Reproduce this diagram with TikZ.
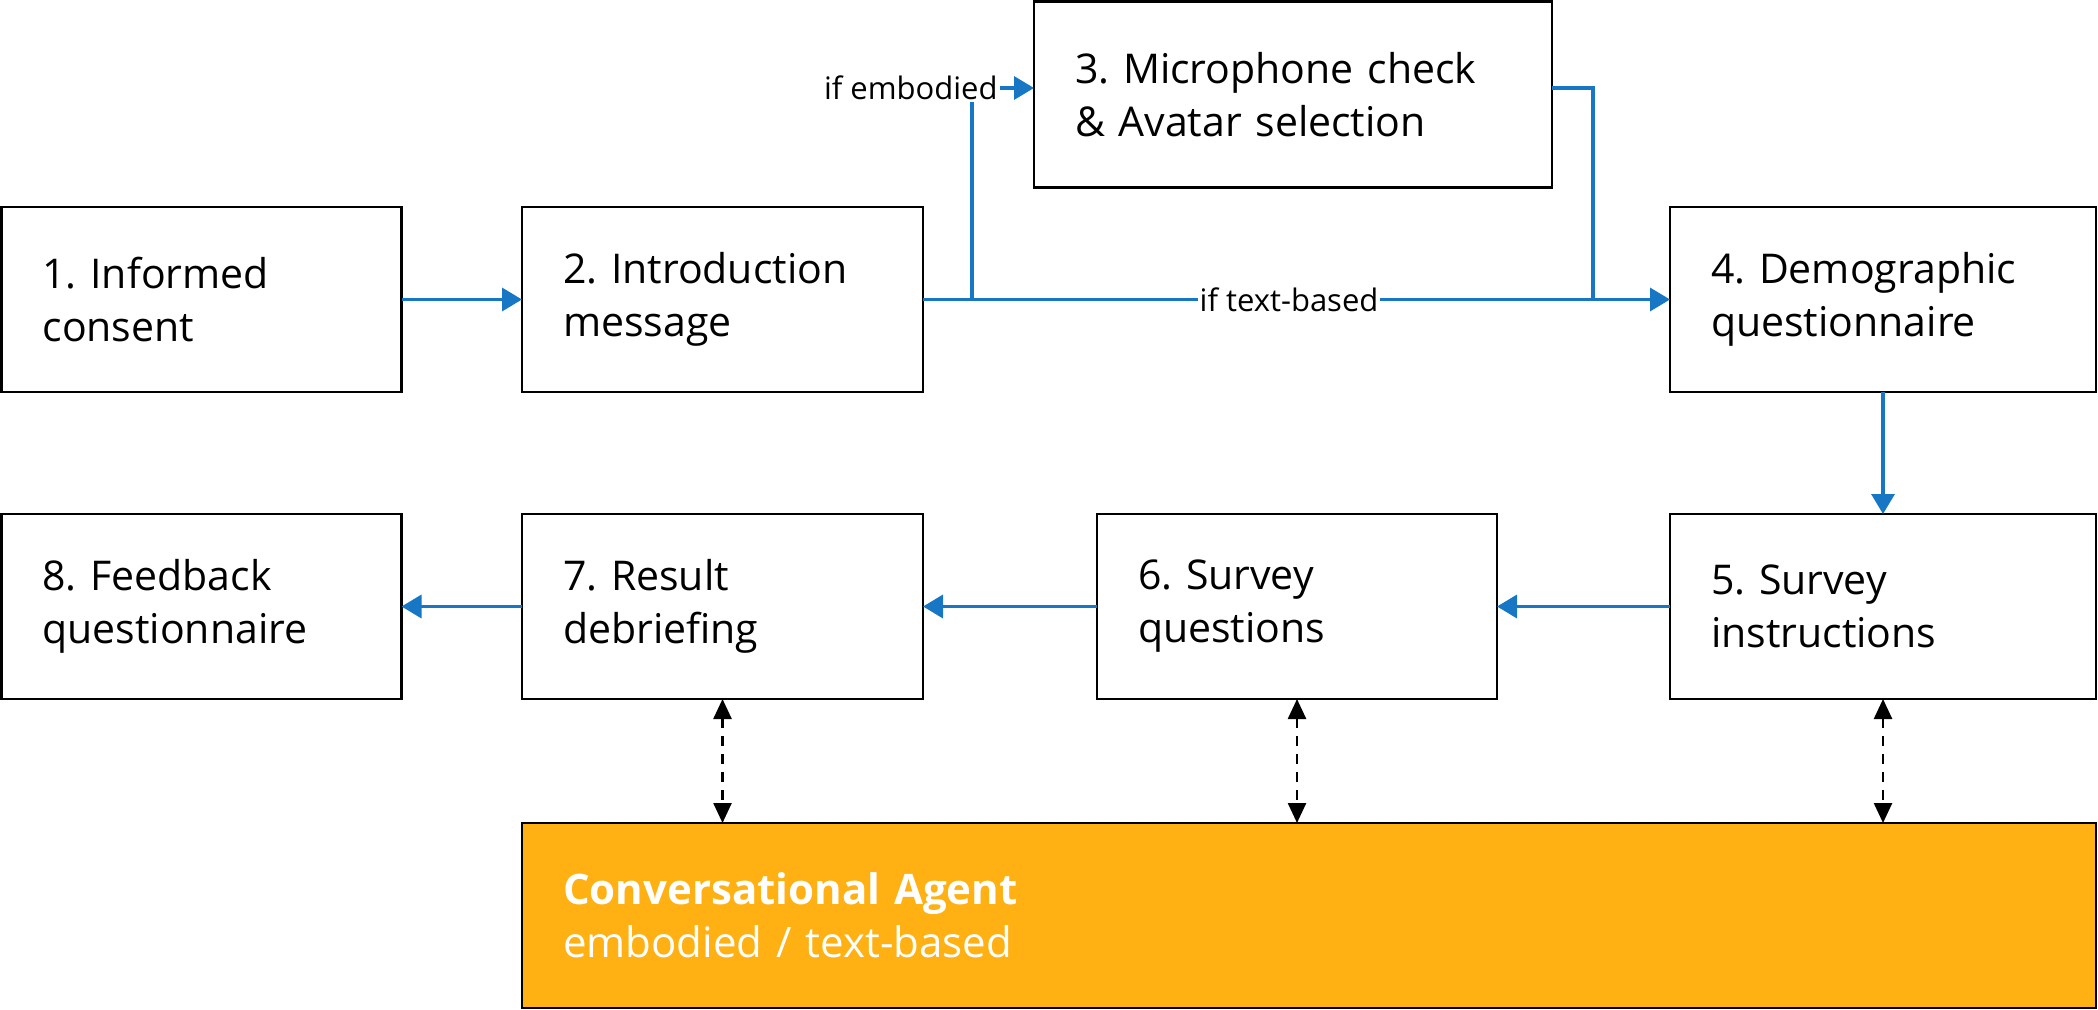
\documentclass[tikz,border=0pt]{standalone}
\usepackage{fontspec}
\setmainfont{Open Sans}
\usetikzlibrary{arrows.meta}
\definecolor{flowblue}{HTML}{1777C5}
\definecolor{agentorange}{HTML}{FFB012}
\frenchspacing
\begin{document}
\begin{tikzpicture}[x=0.5pt,y=-0.5pt,
  stepbox/.style={draw=black, line width=1.25pt, minimum height=92.5pt, inner xsep=20.5pt, inner ysep=0pt,
    align=left, font=\fontsize{20.5pt}{26.5pt}\selectfont, anchor=north west, outer sep=0pt},
  cabox/.style={stepbox, fill=agentorange, text=white, font=\fontsize{21pt}{26.5pt}\selectfont},
  blueline/.style={draw=flowblue, line width=1.75pt},
  flow/.style={blueline, -{Triangle[length=10pt,width=11.5pt]}},
  agentlink/.style={draw=black, line width=1.25pt, dash pattern=on 5pt off 4pt,
    {Triangle[length=10pt,width=9pt]}-{Triangle[length=10pt,width=9pt]}},
  lbl/.style={fill=white, inner sep=1pt, font=\fontsize{15.5pt}{18pt}\selectfont}
]
\useasboundingbox (0,0) rectangle (2098,1010);

% row 1
\node[stepbox, text width=159pt] (b1) at (1.5,207) {1. Informed\\consent};
\node[stepbox, text width=159.5pt] (b2) at (522,207) {2. Introduction\\message};
\node[stepbox, text width=218pt, minimum height=93pt] (b3) at (1034,1.5) {3. Microphone check\\\& Avatar selection};
\node[stepbox, text width=172pt] (b4) at (1670,207) {4. Demographic\\questionnaire};
% row 2
\node[stepbox, text width=172pt] (b5) at (1670,514) {5. Survey\\instructions};
\node[stepbox, text width=159pt] (b6) at (1097,514) {6. Survey\\questions};
\node[stepbox, text width=159.5pt] (b7) at (522,514) {7. Result\\debriefing};
\node[stepbox, text width=159pt] (b8) at (1.5,514) {8. Feedback\\questionnaire};
% agent
\node[cabox, text width=746pt, minimum height=92.5pt] (ca) at (522,823) {\textbf{Conversational Agent}\\embodied / text-based};

% coordinates
\coordinate (br) at (972,299.5);
\coordinate (mrg) at (1593,299.5);
\node[lbl, anchor=east] (lemb) at (1000,88) {if embodied};

% connectors
\draw[flow] (b1.east) -- (b2.west);
\draw[flow] (b2.east) -- node[lbl, pos=0.49] {if text-based} (b4.west);
\draw[blueline] (br) -- (br |- lemb.south);
\draw[flow] (lemb.east) -- (b3.west |- lemb.east);
\draw[blueline] (b3.east |- lemb.east) -| (mrg);
\draw[flow] (b4.south) -- (b5.north);
\draw[flow] (b5.west) -- (b6.east);
\draw[flow] (b6.west) -- (b7.east);
\draw[flow] (b7.west) -- (b8.east);

\draw[agentlink] (b7.south) -- (b7.south |- ca.north);
\draw[agentlink] (b6.south) -- (b6.south |- ca.north);
\draw[agentlink] (b5.south) -- (b5.south |- ca.north);
\end{tikzpicture}
\end{document}
